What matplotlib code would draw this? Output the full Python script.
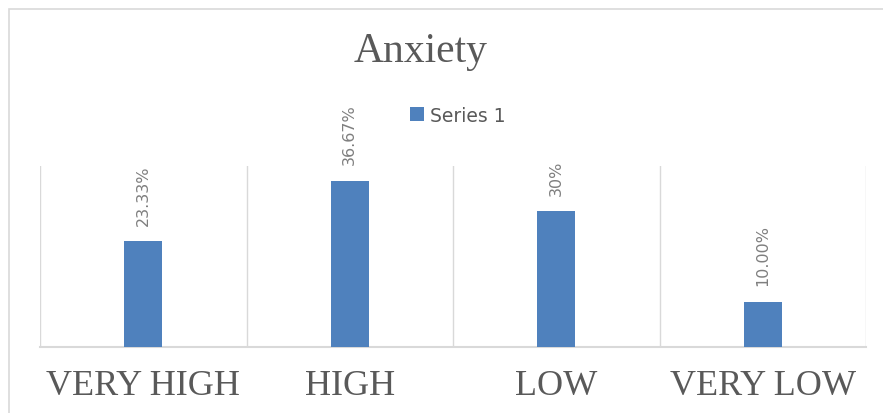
import matplotlib
matplotlib.use("Agg")
import matplotlib.pyplot as plt
from matplotlib.patches import Rectangle

# Data
categories = ["VERY HIGH", "HIGH", "LOW", "VERY LOW"]
values = [23.33, 36.67, 30.0, 10.0]
value_labels = ["23.33%", "36.67%", "30%", "10.00%"]
series_name = "Series 1"
title = "Anxiety"

BAR_COLOR = "#4f81bd"
GRID_COLOR = "#d9d9d9"
TEXT_DARK = "#595959"
TEXT_LIGHT = "#7f7f7f"

W, H = 883, 414
fig = plt.figure(figsize=(W / 100, H / 100), dpi=100)

# outer chart border (cropped on the right and bottom like the reference)
fig.patches.append(Rectangle((9 / W, -0.1), 1.2, 1 - 10 / H + 0.1,
                             transform=fig.transFigure, fill=False,
                             edgecolor=GRID_COLOR, linewidth=1.2))

ax = fig.add_axes([40 / W, (H - 348) / H, (866 - 40) / W, (348 - 167) / H])
x = list(range(len(categories)))
bars = ax.bar(x, values, width=0.184, color=BAR_COLOR, zorder=3)

ax.set_xlim(-0.5, len(categories) - 0.5)
ax.set_ylim(0, 40)
ax.set_yticks([])

# vertical separators between categories
for b in [i - 0.5 for i in range(len(categories) + 1)]:
    ax.axvline(b, color=GRID_COLOR, linewidth=1.0, zorder=1)

for s in ["top", "right", "left"]:
    ax.spines[s].set_visible(False)
ax.spines["bottom"].set_color(GRID_COLOR)
ax.spines["bottom"].set_linewidth(1.5)

ax.set_xticks(x)
ax.set_xticklabels(categories, family="Liberation Serif", fontsize=26, color=TEXT_DARK)
ax.tick_params(axis="x", length=0, pad=16)

for rect, lab in zip(bars, value_labels):
    ax.annotate(lab, (rect.get_x() + rect.get_width() / 2, rect.get_height()),
                xytext=(0, 12), textcoords="offset points", rotation=90,
                ha="center", va="bottom", fontsize=11.5, color=TEXT_LIGHT,
                family="DejaVu Sans")

fig.text(421 / W, 1 - 62 / H, title, ha="center", va="baseline",
         family="Liberation Serif", fontsize=30, color=TEXT_DARK)

leg = fig.legend([bars[0]], [series_name], loc="center",
                 bbox_to_anchor=(458 / W, 1 - 116 / H), frameon=False,
                 handlelength=0.75, handleheight=0.75, handletextpad=0.3,
                 prop={"family": "DejaVu Sans", "size": 13.5})
for t in leg.get_texts():
    t.set_color(TEXT_DARK)

fig.savefig("out.png", dpi=100)
